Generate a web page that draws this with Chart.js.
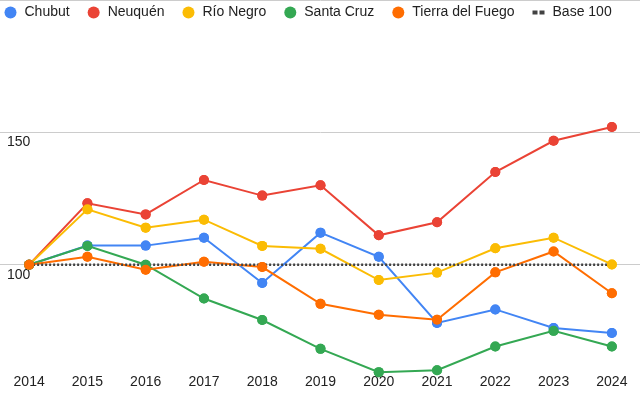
<!DOCTYPE html>
<html>
<head>
<meta charset="utf-8">
<script src="https://cdn.jsdelivr.net/npm/chart.js@4.4.1/dist/chart.umd.min.js"></script>
<style>
  html, body { margin: 0; padding: 0; background: #ffffff; overflow: hidden; }
  #wrap { position: relative; width: 640px; height: 396px; overflow: hidden; }
  #inner { position: absolute; left: -14px; top: -15px; width: 660px; height: 411px; }
</style>
</head>
<body>
<div id="wrap"><div id="inner"><canvas id="c"></canvas></div></div>
<script>
const years = ['2014','2015','2016','2017','2018','2019','2020','2021','2022','2023','2024'];
const chubut        = [100, 107.2, 107.2, 110.2, 93.1, 112.1, 103.0, 78.0, 83.1, 76.1, 74.2];
const neuquen       = [100, 123.2, 119.0, 132.0, 126.1, 130.0, 111.1, 116.0, 135.0, 146.8, 152.0];
const rioNegro      = [100, 120.9, 114.0, 117.0, 107.1, 106.0, 94.2, 97.0, 106.2, 110.2, 100.1];
const santaCruz     = [100, 107.1, 100.0, 87.2, 79.1, 68.2, 59.4, 60.1, 69.1, 75.0, 69.1];
const tierraFuego   = [100, 103.0, 98.1, 101.1, 99.1, 85.2, 81.1, 79.2, 97.1, 105.0, 89.2];
const base100       = [100, 100, 100, 100, 100, 100, 100, 100, 100, 100, 100];
const seriesNames   = ['Chubut', 'Neuquén', 'Río Negro', 'Santa Cruz', 'Tierra del Fuego', 'Base 100'];
const yTickValues   = [100, 150, 200];
const yTickLabels   = ['100', '150', ''];

const colors = ['#4285F4', '#EA4335', '#FBBC04', '#34A853', '#FF6D01'];
const seriesData = [chubut, neuquen, rioNegro, santaCruz, tierraFuego];
const FONT = "'Liberation Sans', Arial, sans-serif";

const datasets = seriesData.map((d, i) => ({
  label: seriesNames[i],
  data: d,
  borderColor: colors[i],
  backgroundColor: colors[i],
  pointBackgroundColor: colors[i],
  pointBorderWidth: 0,
  pointRadius: 5,
  borderWidth: 2,
  tension: 0,
  order: -i,
  clip: false
}));
datasets.push({
  label: seriesNames[5],
  data: base100,
  borderColor: '#424242',
  backgroundColor: '#424242',
  borderWidth: 2.5,
  borderDash: [2, 2],
  pointRadius: 0,
  order: -10,
  isBase: true,
  clip: false
});

const pointsOnTop = {
  id: 'pointsOnTop',
  afterDatasetsDraw(chart) {
    const ctx = chart.ctx;
    chart.data.datasets.forEach((ds, i) => {
      if (ds.isBase) return;
      const meta = chart.getDatasetMeta(i);
      meta.data.forEach(p => p.draw(ctx, chart.chartArea));
    });
  }
};

const legendRow = {
  id: 'legendRow',
  beforeLayout(chart) {
    const lg = chart.legend;
    if (lg && !lg._rowPatched) {
      lg._rowPatched = true;
      lg.isHorizontal = () => true;
      const orig = lg.update.bind(lg);
      lg.update = (w, h, m) => orig(w + 200, h, m);
    }
  },
  afterLayout(chart) {
    if (chart.legend) {
      chart.legend.left = 0.5;
      chart.legend.top = 3.5;
    }
  }
};

new Chart(document.getElementById('c'), {
  type: 'line',
  data: { labels: years, datasets },
  plugins: [pointsOnTop, legendRow],
  options: {
    responsive: true,
    maintainAspectRatio: false,
    animation: false,
    layout: { padding: { left: 0, right: 0, top: 0, bottom: 4 } },
    plugins: {
      tooltip: { enabled: false },
      legend: {
        position: 'chartArea',
        align: 'start',
        labels: {
          usePointStyle: true,
          boxWidth: 14,
          boxHeight: 8.49,
          padding: 17,
          color: '#222222',
          font: { family: FONT, size: 14 },
          sort: (a, b) => a.datasetIndex - b.datasetIndex,
          generateLabels(chart) {
            const items = Chart.defaults.plugins.legend.labels.generateLabels(chart);
            items.forEach(it => {
              const ds = chart.data.datasets[it.datasetIndex];
              if (ds.isBase) {
                it.pointStyle = 'line';
                it.lineWidth = 4;
                it.lineDash = [5, 2];
                it.strokeStyle = '#424242';
              } else {
                it.pointStyle = 'circle';
                it.lineWidth = 0;
                it.fillStyle = ds.borderColor;
              }
            });
            return items;
          }
        }
      }
    },
    scales: {
      x: {
        offset: true,
        grid: { display: false, drawTicks: false },
        border: { display: false },
        ticks: {
          padding: 1,
          color: '#222222',
          font: { family: FONT, size: 14 },
          maxRotation: 0,
          autoSkip: false
        }
      },
      y: {
        min: 59,
        max: 200,
        grid: { color: '#cccccc', drawTicks: false },
        border: { display: false },
        afterBuildTicks(scale) {
          scale.ticks = yTickValues.map(v => ({ value: v }));
        },
        ticks: {
          mirror: true,
          padding: 7,
          labelOffset: 10,
          color: '#222222',
          font: { family: FONT, size: 14, lineHeight: 16 / 14 },
          callback(value) {
            const idx = yTickValues.indexOf(value);
            return idx >= 0 ? yTickLabels[idx] : '';
          }
        }
      }
    }
  }
});
</script>
</body>
</html>
